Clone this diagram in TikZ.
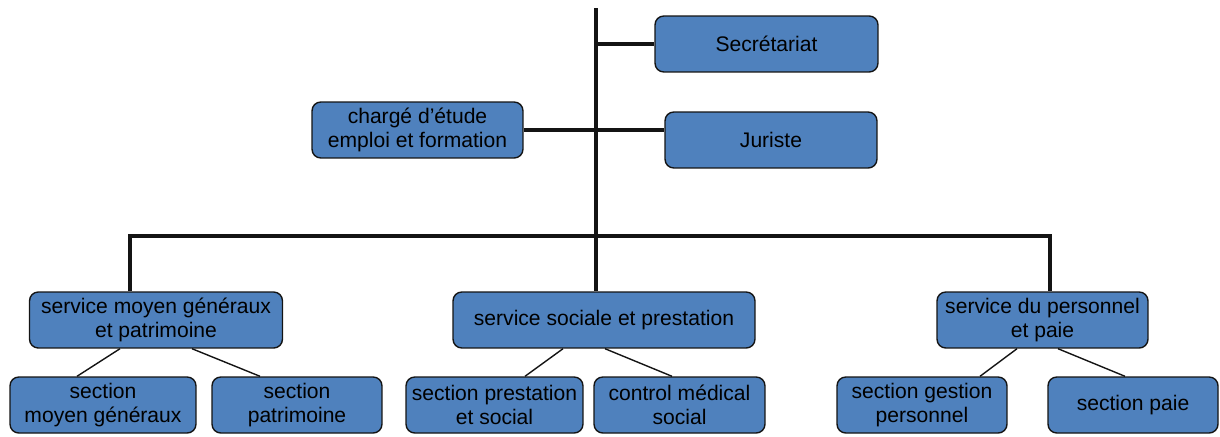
\documentclass[tikz,border=0pt]{standalone}
\usepackage{fontspec}
\setmainfont{Liberation Sans}
\usepackage{tikz}
\usetikzlibrary{positioning}
\definecolor{orgblue}{RGB}{79,129,189}
\definecolor{orgline}{RGB}{20,20,20}

\begin{document}
\begin{tikzpicture}[
  x=0.02cm, y=-0.02cm,
  unit/.style={draw=orgline, line width=0.8pt, fill=orgblue, rounded corners=5pt, minimum height=1.12cm, align=center, inner sep=1pt, font=\fontsize{12}{13.5}\selectfont},
  trunk/.style={line width=2pt, orgline},
  branch/.style={line width=0.8pt, orgline}
]
\useasboundingbox (0,0) rectangle (1220,436);

% Direction
\coordinate (top) at (596,8);
\node[unit, minimum width=4.46cm] (secr) at (766.5,44) {Secrétariat};
\node[unit, minimum width=4.22cm] (charge) at (417.5,130) {chargé d’étude\\emploi et formation};
\node[unit, minimum width=4.24cm] (juriste) at (771,140) {Juriste};

% Services
\node[unit, minimum width=5.06cm] (smg) at (156,320) {service moyen généraux\\et patrimoine};
\node[unit, minimum width=6.04cm] (sss) at (604,320) {service sociale et prestation};
\node[unit, minimum width=4.22cm] (spp) at (1042.5,320) {service du personnel\\et paie};
\coordinate (barL) at (130,236);
\coordinate (barR) at (1050,236);

% Sections
\node[unit, minimum width=3.72cm] (secmg) at (103,405) {section\\moyen généraux};
\node[unit, minimum width=3.40cm] (secpat) at (297,405) {section\\patrimoine};
\node[unit, minimum width=3.54cm] (secprest) at (494.5,405) {section prestation\\et social};
\node[unit, minimum width=3.42cm] (ctrlmed) at (679.5,405) {control médical\\social};
\node[unit, minimum width=3.40cm] (secgest) at (922,405) {section gestion\\personnel};
\node[unit, minimum width=3.40cm] (secpaie) at (1133,405) {section paie};

% Lines
\draw[trunk] (top) -- (top |- sss.north);
\draw[trunk] (top |- secr.west) -- (secr.west);
\draw[trunk] (charge.east) -- (charge.east -| juriste.west);
\draw[trunk] (barL |- smg.north) -- (barL) -- (barR) -- (barR |- spp.north);

\draw[branch] ([xshift=-0.72cm]smg.south) -- ([xshift=-0.52cm]secmg.north);
\draw[branch] ([xshift=0.72cm]smg.south) -- ([xshift=-0.74cm]secpat.north);
\draw[branch] ([xshift=-0.82cm]sss.south) -- ([xshift=0.61cm]secprest.north);
\draw[branch] ([xshift=0.02cm]sss.south) -- ([xshift=-0.15cm]ctrlmed.north);
\draw[branch] ([xshift=-0.51cm]spp.south) -- ([xshift=1.16cm]secgest.north);
\draw[branch] ([xshift=0.31cm]spp.south) -- ([xshift=-0.16cm]secpaie.north);

\end{tikzpicture}
\end{document}
